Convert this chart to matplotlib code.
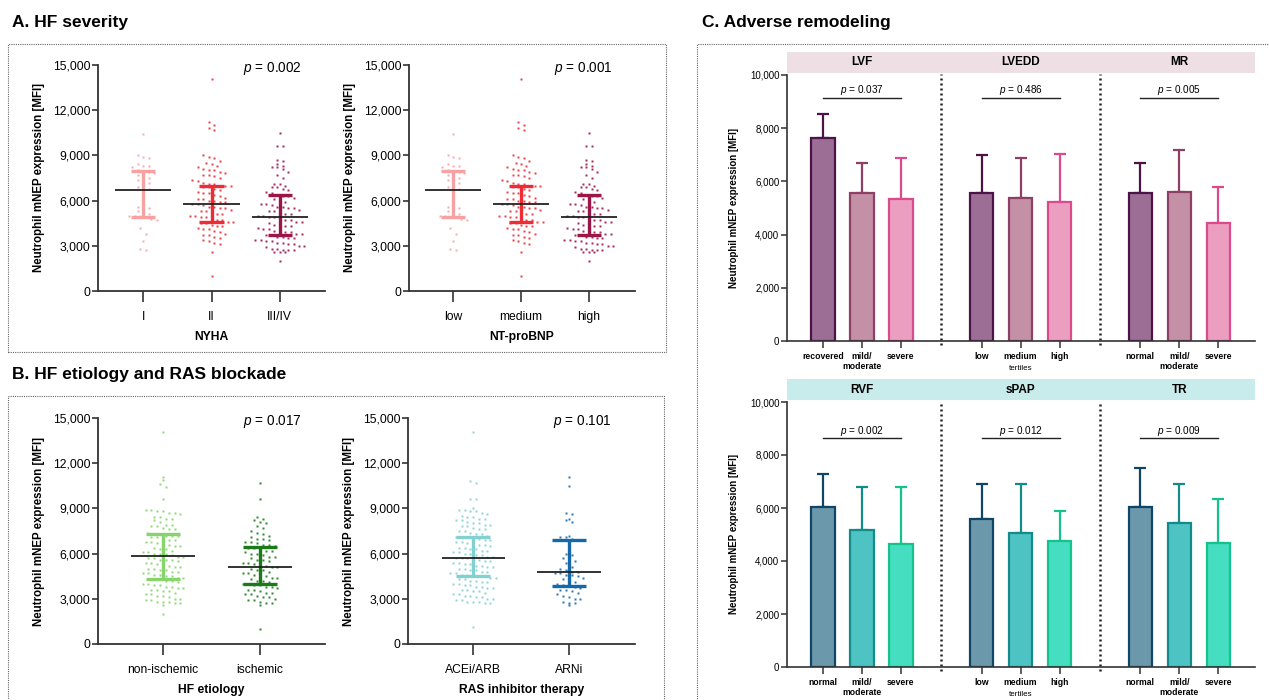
import numpy as np
import matplotlib
matplotlib.use("Agg")
import matplotlib.pyplot as plt
from matplotlib.patches import Rectangle
from matplotlib.ticker import FuncFormatter

plt.rcParams['font.family'] = ['Liberation Sans', 'DejaVu Sans']
plt.rcParams['mathtext.fontset'] = 'custom'
plt.rcParams['mathtext.it'] = 'Liberation Sans:italic'
plt.rcParams['mathtext.rm'] = 'Liberation Sans'

# ---- panel A / B scatter data (values in units of 100 MFI)
nyha_labels = ['I', 'II', 'III/IV']
nyha_I = [104, 90, 89, 88, 84, 83, 83, 82, 80, 79, 79, 78, 77, 76, 75, 74, 73, 72,
          69, 69, 68, 56, 55, 55, 53, 52, 51, 50, 50, 49, 49, 48, 47, 42, 38, 33, 28, 27]
nyha_II = [141, 112, 110, 108, 107,
           90, 89, 88, 86, 85, 84, 83, 82, 81, 80, 80,
           79, 78, 77, 77, 76, 75, 74, 73, 72, 71, 71, 70, 70, 70, 69, 69,
           68, 67, 66, 65, 65, 64, 63, 62, 61, 61, 60, 60, 59, 59, 58, 58,
           57, 56, 56, 55, 55, 54, 53, 53, 52, 51, 51, 50, 50, 49, 49,
           48, 47, 47, 46, 46, 45, 45, 44, 43, 43, 42, 41, 41, 40, 39,
           38, 37, 37, 36, 35, 34, 33, 32, 31, 26, 10]
nyha_III = [105, 96, 96, 87, 86, 84, 83, 82, 82, 81, 79, 77, 75,
            71, 71, 70, 69, 69, 68, 67, 66, 65, 64, 63, 63, 62, 61, 60,
            59, 58, 58, 57, 56, 56, 55, 55, 54, 53, 53, 52, 51, 51, 50, 50,
            49, 49, 48, 47, 47, 46, 46, 45, 44, 44, 43, 43, 42, 41, 41, 40, 40,
            39, 39, 38, 38, 37, 37, 36, 36, 35, 35, 34, 34, 33, 33, 32, 32, 31, 31,
            30, 30, 29, 28, 28, 27, 27, 27, 26, 26, 26, 20]
nyha_mean = [6680, 5770, 4910]
nyha_low = [4930, 4560, 3740]
nyha_high = [7940, 6990, 6350]

# the NT-proBNP panel shows the same points as the NYHA panel
bnp_labels = ['low', 'medium', 'high']
bnp_low_grp = nyha_I
bnp_med_grp = nyha_II
bnp_high_grp = nyha_III
bnp_mean = [6680, 5770, 4910]
bnp_low = [4930, 4560, 3740]
bnp_high = [7940, 6990, 6350]

etio_labels = ['non-ischemic', 'ischemic']
nonisch = [141, 111, 109, 106, 104, 96,
           89, 89, 88, 88, 87, 87, 86,
           84, 84, 83, 83, 82, 81,
           79, 79, 78, 78, 77, 76, 76,
           74, 73, 73, 72, 72, 72, 71, 71,
           70, 69, 69, 68, 68, 67, 67,
           66, 65, 65, 64, 63, 63,
           62, 61, 61, 60, 60, 60, 59,
           58, 58, 57, 57, 56, 56, 56,
           55, 54, 54, 53, 53, 52,
           51, 51, 50, 50, 49, 49, 48,
           48, 47, 47, 46, 46, 45, 45,
           44, 44, 43, 43, 43, 42, 42,
           41, 40, 40, 39, 39, 38, 38,
           37, 37, 36, 36, 35, 35, 34,
           33, 33, 32, 32, 31, 30, 30,
           29, 29, 28, 28, 28, 27, 27, 26,
           20]
isch = [107, 96,
        84, 83, 82, 81, 80, 78, 77,
        75, 74, 73, 72, 71, 70, 70,
        69, 68, 68, 67, 66, 66, 65,
        64, 64, 63, 62, 62, 61, 60, 60,
        59, 58, 58, 57, 56, 56, 55,
        54, 54, 53, 52, 52, 51, 51, 50,
        49, 49, 48, 47, 47, 46, 46,
        45, 44, 44, 43, 42, 42, 41,
        40, 40, 39, 39, 38, 38, 37,
        36, 36, 35, 34, 34, 33, 33,
        32, 31, 31, 30, 29, 29, 28, 27, 27, 26,
        10]
etio_mean = [5840, 5110]
etio_low = [4330, 3980]
etio_high = [7280, 6440]

ras_labels = ['ACEi/ARB', 'ARNi']
acei = [141, 108, 107, 96, 96,
        90, 89, 89, 88, 88, 87,
        86, 85, 84, 84, 83, 83, 82, 82,
        81, 80, 80, 79, 79, 78, 78, 77,
        76, 76, 75, 75, 74, 73, 73, 72,
        71, 71, 71, 70, 70, 69, 69, 68,
        68, 67, 67, 66, 66, 65, 64, 64,
        63, 63, 62, 62, 61, 61, 60, 60,
        59, 59, 58, 58, 57, 57, 57, 56,
        56, 55, 55, 54, 54, 53, 53, 52,
        52, 51, 51, 50, 50, 49, 49, 48,
        48, 47, 47, 46, 46, 45, 45, 45,
        44, 44, 43, 43, 42, 42, 41, 41,
        40, 40, 39, 39, 38, 38, 37, 37,
        36, 36, 35, 35, 34, 33, 33, 32,
        32, 31, 31, 30, 30, 29, 29, 28,
        28, 28, 27, 27,
        11]
arni = [111, 105,
        87, 86, 83, 82, 81,
        72, 71, 71, 70, 69,
        60, 59, 57, 56, 55, 54,
        51, 50, 49, 48, 48, 47, 47, 46, 46,
        45, 44, 43, 42, 41, 40,
        39, 39, 38, 37, 36, 36, 35,
        34, 33, 32, 31, 30, 30, 28, 27, 27, 26]
ras_mean = [5690, 4780]
ras_low = [4510, 3870]
ras_high = [7120, 6920]

# ---- panel C bar data
top_names = ['LVF', 'LVEDD', 'MR']
top_p = ['0.037', '0.486', '0.005']
top_ticks = ['recovered', 'mild/\nmoderate', 'severe', 'low', 'medium', 'high',
             'normal', 'mild/\nmoderate', 'severe']
top_means = [7640, 5560, 5320, 5560, 5360, 5230, 5560, 5620, 4420]
top_err = [8550, 6680, 6890, 6990, 6880, 7040, 6680, 7170, 5790]

bot_names = ['RVF', 'sPAP', 'TR']
bot_p = ['0.002', '0.012', '0.009']
bot_ticks = ['normal', 'mild/\nmoderate', 'severe', 'low', 'medium', 'high',
             'normal', 'mild/\nmoderate', 'severe']
bot_means = [6030, 5170, 4630, 5600, 5070, 4740, 6030, 5450, 4670]
bot_err = [7290, 6800, 6780, 6900, 6900, 5870, 7510, 6900, 6330]

W, H = 1269, 700
fig = plt.figure(figsize=(W / 100, H / 100), dpi=100)
fig.patch.set_facecolor('white')

def px_axes(x0, y0, x1, y1):
    return fig.add_axes([x0 / W, 1 - y1 / H, (x1 - x0) / W, (y1 - y0) / H])

def dotted_box(x0, y0, x1, y1):
    fig.add_artist(Rectangle((x0 / W, 1 - y1 / H), (x1 - x0) / W, (y1 - y0) / H,
                             transform=fig.transFigure, fill=False, ls=(0, (1, 1)),
                             lw=0.8, ec='#666666'))

thousands = FuncFormatter(lambda v, p: f'{int(v):,}')
ylab = 'Neutrophil mNEP expression [MFI]'

def swarm_x(vals, center, dx, binw):
    vals = np.asarray(vals, dtype=float)
    bins = np.round(vals / binw).astype(int)
    xs = np.zeros(len(vals))
    for b in np.unique(bins):
        idx = np.where(bins == b)[0]
        n = len(idx)
        xs[idx] = center + (np.arange(n) - (n - 1) / 2) * dx
    return xs

def scatter_panel(ax, groups, colors, labels, means, lows, highs, xlabel, ptxt,
                  xlim, dx, mw, cw, binw):
    for i, (g, c) in enumerate(zip(groups, colors)):
        vals = np.asarray(g) * 100
        ax.plot(swarm_x(vals, i, dx, binw), vals, 's', ms=2.1, color=c, mec='none',
                alpha=0.9, zorder=2)
        ax.vlines(i, lows[i], highs[i], color=c, lw=2.4, zorder=3)
        ax.hlines([lows[i], highs[i]], i - cw, i + cw, color=c, lw=2.4, zorder=3)
        ax.hlines(means[i], i - mw, i + mw, color='#222222', lw=1.3, zorder=4)
    ax.set_xlim(*xlim)
    ax.set_ylim(0, 15000)
    ax.set_yticks(range(0, 15001, 3000))
    ax.yaxis.set_major_formatter(thousands)
    ax.set_xticks(range(len(groups)))
    ax.set_xticklabels(labels)
    for s in ['top', 'right']:
        ax.spines[s].set_visible(False)
    for s in ['left', 'bottom']:
        ax.spines[s].set_linewidth(1.3)
        ax.spines[s].set_color('#333333')
    ax.tick_params(axis='y', length=4, width=1.2, pad=1.5, labelsize=8.7, color='#333333')
    ax.tick_params(axis='x', length=8, width=1.2, pad=6.5, labelsize=8.7, color='#333333')
    ax.set_xlabel(xlabel, fontsize=8.7, fontweight='bold', labelpad=6)
    ax.set_ylabel(ylab, fontsize=8.3, fontweight='bold', labelpad=6)
    ax.text(0.9, 0.985, r'$p$ = ' + ptxt, transform=ax.transAxes, ha='right', va='center',
            fontsize=9.8)

# ---- panel frames and titles
dotted_box(8, 44, 666, 352)
dotted_box(8, 396, 664, 706)
dotted_box(697, 44, 1275, 706)
fig.text(12 / W, 1 - 22 / H, 'A. HF severity', fontsize=12.5, fontweight='bold', va='center')
fig.text(12 / W, 1 - 375 / H, 'B. HF etiology and RAS blockade', fontsize=12.5,
         fontweight='bold', va='center')
fig.text(702 / W, 1 - 22 / H, 'C. Adverse remodeling', fontsize=12.5, fontweight='bold',
         va='center')

nyha_colors = ['#F7A1A3', '#EC2D36', '#9B1548']
axA1 = px_axes(98, 65, 325, 291)
scatter_panel(axA1, [nyha_I, nyha_II, nyha_III], nyha_colors, nyha_labels,
              nyha_mean, nyha_low, nyha_high, 'NYHA', '0.002', (-0.66, 2.66),
              0.08, 0.41, 0.18, 400)
axA2 = px_axes(409, 65, 635, 291)
scatter_panel(axA2, [bnp_low_grp, bnp_med_grp, bnp_high_grp], nyha_colors, bnp_labels,
              bnp_mean, bnp_low, bnp_high, 'NT-proBNP', '0.001', (-0.65, 2.68),
              0.08, 0.41, 0.18, 400)

axB1 = px_axes(98, 418, 325, 644)
scatter_panel(axB1, [nonisch, isch], ['#86D46B', '#1A7A1A'], etio_labels,
              etio_mean, etio_low, etio_high, 'HF etiology', '0.017', (-0.67, 1.67),
              0.06, 0.33, 0.18, 350)
axB2 = px_axes(408, 418, 635, 644)
scatter_panel(axB2, [acei, arni], ['#83D0D0', '#1669A8'], ras_labels,
              ras_mean, ras_low, ras_high, 'RAS inhibitor therapy', '0.101', (-0.68, 1.69),
              0.06, 0.33, 0.18, 350)

# ---- panel C bars
def bar_panel(ax, names, pvals, ticks, means, errs, fills, edges, strip_col, pline):
    pos = [g * 4.07 + j for g in range(3) for j in range(3)]
    for k, x in enumerate(pos):
        j = k % 3
        ax.errorbar(x, means[k], yerr=[[0], [errs[k] - means[k]]], fmt='none',
                    ecolor=edges[j], elinewidth=1.6, capsize=4.2, capthick=1.6, zorder=1)
        ax.bar(x, means[k], width=0.6, color=fills[j], edgecolor=edges[j], lw=1.6, zorder=2)
    ax.set_xlim(-0.92, 11.08)
    ax.set_ylim(0, 10000)
    ax.set_yticks(range(0, 10001, 2000))
    ax.yaxis.set_major_formatter(thousands)
    ax.set_xticks(pos)
    ax.set_xticklabels(ticks, fontweight='bold', fontsize=6.2, linespacing=1.15)
    for s in ['top', 'right']:
        ax.spines[s].set_visible(False)
    for s in ['left', 'bottom']:
        ax.spines[s].set_linewidth(1.2)
        ax.spines[s].set_color('#333333')
    ax.tick_params(axis='y', length=4, width=1.1, pad=1.5, labelsize=7, color='#333333')
    ax.tick_params(axis='x', length=5, width=1.1, pad=3, color='#333333')
    ax.set_ylabel(ylab, fontsize=7, fontweight='bold', labelpad=8)
    ax.text(pos[4], -0.105, 'tertiles', transform=ax.get_xaxis_transform(), ha='center',
            va='center', fontsize=5.8)
    # strip header
    ax.add_patch(Rectangle((0, 1.008), 1, 0.078, transform=ax.transAxes, fc=strip_col,
                           ec='none', clip_on=False))
    for g in range(3):
        c = g * 4.07 + 1
        ax.text(c, 1.047, names[g], transform=ax.get_xaxis_transform(), ha='center',
                va='center', fontsize=8.5, fontweight='bold')
        ax.plot([c - 1, c + 1], [pline, pline], color='#222222', lw=1.0, clip_on=False)
        ax.text(c, pline + 280, r'$p$ = ' + pvals[g], ha='center', va='center',
                fontsize=7.2)
    for sx in [3.035, 7.105]:
        ax.plot([sx, sx], [-150, 10050], color='#222222', lw=1.8, ls=(0, (0.8, 1.2)),
                clip_on=False)

axC1 = px_axes(787, 75, 1255, 341)
bar_panel(axC1, top_names, top_p, top_ticks, top_means, top_err,
          ['#9C6E95', '#C490A5', '#EC9EC0'], ['#4B1347', '#8E3F66', '#DA4A8C'],
          '#EEDFE5', 9150)
axC2 = px_axes(787, 402, 1255, 667)
bar_panel(axC2, bot_names, bot_p, bot_ticks, bot_means, bot_err,
          ['#6B98AB', '#4EC3C3', '#46DEC0'], ['#0F4567', '#138B8B', '#14C28D'],
          '#C8EBEB', 8630)

fig.savefig('out.png', dpi=100)
